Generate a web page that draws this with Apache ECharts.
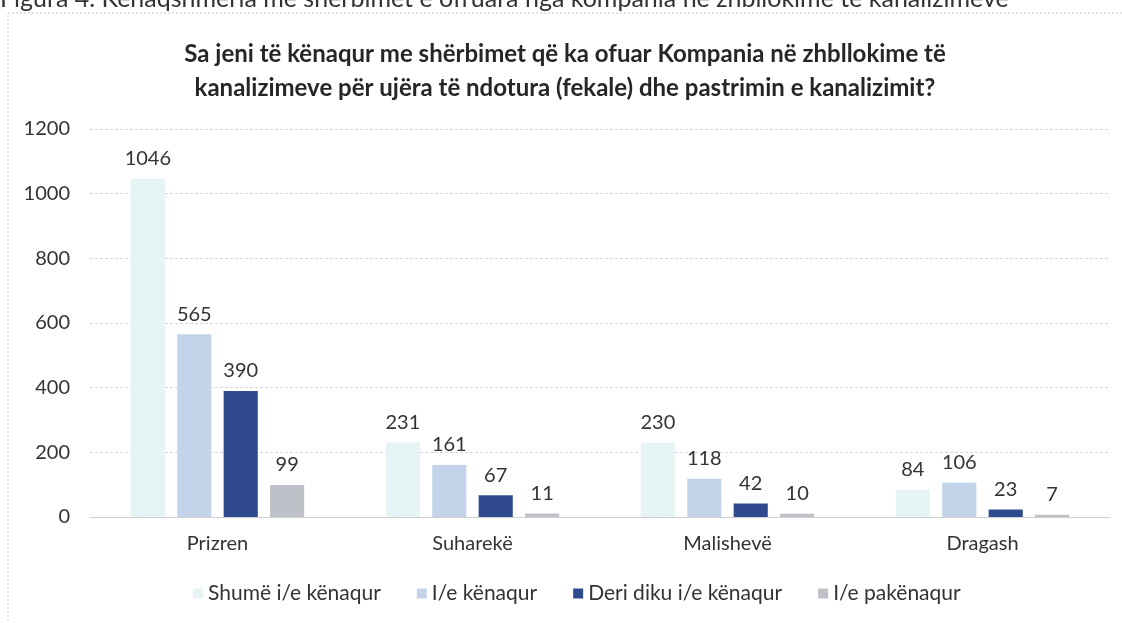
<!DOCTYPE html>
<html>
<head>
<meta charset="utf-8">
<script src="https://cdn.jsdelivr.net/npm/echarts@6/dist/echarts.min.js"></script>
<style>
  html, body { margin: 0; padding: 0; background: #fff; }
  #chart { width: 1122px; height: 623px; }
</style>
</head>
<body>
<div id="chart"></div>
<script>
const categories = ["Prizren", "Suharekë", "Malishevë", "Dragash"];
const seriesNames = ["Shumë i/e kënaqur", "I/e kënaqur", "Deri diku i/e kënaqur", "I/e pakënaqur"];
const shumeKenaqur = [1046, 231, 230, 84];
const kenaqur = [565, 161, 118, 106];
const deriDiku = [390, 67, 42, 23];
const pakenaqur = [99, 11, 10, 7];
const colors = ["#e6f4f6", "#c3d4ea", "#2f4a8e", "#bfc1c8"];

const chart = echarts.init(document.getElementById("chart"));
const font = "Lato, 'Open Sans', sans-serif";

const allValues = [shumeKenaqur, kenaqur, deriDiku, pakenaqur];

chart.setOption({
  animation: false,
  textStyle: { fontFamily: font },
  title: {
    text: "Sa jeni të kënaqur me shërbimet që ka ofuar Kompania në zhbllokime të\nkanalizimeve për ujëra të ndotura (fekale) dhe pastrimin e kanalizimit?",
    left: 560,
    textAlign: "center",
    top: 32,
    textStyle: { fontSize: 24, fontWeight: "bold", color: "#262626", lineHeight: 34, fontFamily: font }
  },
  graphic: [
    {
      type: "text",
      left: 0,
      top: -14,
      style: {
        text: "Figura 4. Kënaqshmëria me shërbimet e ofruara nga kompania në zhbllokime të kanalizimeve",
        fontSize: 25, fill: "#333", fontFamily: font
      }
    },
    {
      type: "rect",
      shape: { x: 8, y: 13, width: 1200, height: 700 },
      style: { fill: "none", stroke: "#c8c8c8", lineWidth: 1, lineDash: [2, 2] },
      z: -1
    }
  ],
  legend: {
    data: seriesNames,
    bottom: 14,
    left: 188,
    itemWidth: 10,
    itemHeight: 10,
    itemGap: 36,
    icon: "rect",
    textStyle: { fontSize: 21, color: "#333", fontFamily: font }
  },
  grid: { left: 90, right: 12, top: 129, bottom: 106, containLabel: false },
  xAxis: {
    type: "category",
    data: categories,
    axisLine: { lineStyle: { color: "#d0d0d0" } },
    axisTick: { show: false },
    axisLabel: { fontSize: 20, color: "#333", margin: 17 }
  },
  yAxis: {
    type: "value",
    min: 0,
    max: 1200,
    interval: 200,
    axisLine: { show: false },
    axisTick: { show: false },
    axisLabel: { fontSize: 20, color: "#333", margin: 20, formatter: (v) => String(v) },
    splitLine: { lineStyle: { color: "#d8d8d8", type: [3, 2] } }
  },
  series: seriesNames.map((name, i) => ({
    name: name,
    type: "bar",
    data: allValues[i],
    barGap: "36%",
    barCategoryGap: "32%",
    itemStyle: { color: colors[i] },
    label: {
      show: true,
      position: "top",
      distance: 10,
      fontSize: 20,
      color: "#333",
      fontFamily: font
    }
  }))
});
</script>
</body>
</html>
